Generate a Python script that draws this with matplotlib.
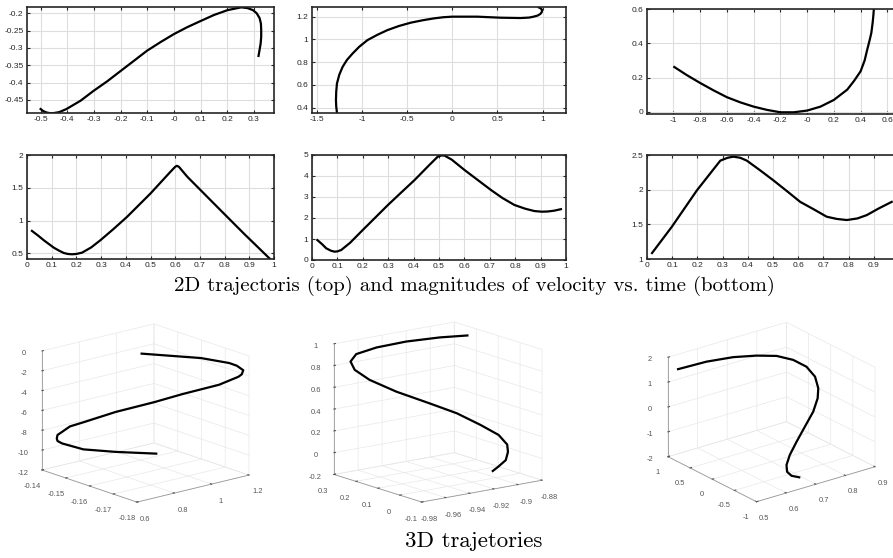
import itertools
import numpy as np
import matplotlib
matplotlib.use("Agg")
import matplotlib.pyplot as plt
from matplotlib.ticker import FormatStrFormatter
from mpl_toolkits.mplot3d import proj3d

plt.rcParams['font.family'] = ['Liberation Sans', 'DejaVu Sans']
plt.rcParams['axes.unicode_minus'] = False

# ---- 2D trajectories (top row) ----
traj1_x = [-0.50, -0.49, -0.478, -0.465, -0.453, -0.43, -0.403, -0.35, -0.302, -0.25, -0.201, -0.15,
           -0.101, -0.05, 0.0, 0.05, 0.101, 0.15, 0.201, 0.252, 0.275, 0.296, 0.31, 0.321, 0.326,
           0.327, 0.327, 0.325, 0.321, 0.317]
traj1_y = [-0.476, -0.482, -0.486, -0.488, -0.488, -0.485, -0.476, -0.452, -0.424, -0.396, -0.367, -0.337,
           -0.308, -0.283, -0.26, -0.24, -0.222, -0.205, -0.191, -0.183, -0.185, -0.191, -0.2, -0.214, -0.23,
           -0.248, -0.268, -0.287, -0.305, -0.323]

traj2_x = [-1.276, -1.284, -1.287, -1.284, -1.276, -1.25, -1.213, -1.165, -1.103, -1.03, -0.938, -0.83,
           -0.717, -0.59, -0.46, -0.33, -0.202, -0.1, 0.0, 0.276, 0.533, 0.754, 0.85, 0.9, 0.945,
           0.974, 0.99, 0.993, 0.975, 0.956]
traj2_y = [0.356, 0.41, 0.468, 0.54, 0.612, 0.69, 0.759, 0.82, 0.876, 0.935, 0.994, 1.04,
           1.082, 1.118, 1.147, 1.168, 1.185, 1.195, 1.2, 1.2, 1.191, 1.188, 1.192, 1.2, 1.21,
           1.224, 1.24, 1.26, 1.275, 1.282]

traj3_x = [-0.993, -0.9, -0.8, -0.7, -0.6, -0.5, -0.4, -0.3, -0.2, -0.1, 0.0, 0.1, 0.2, 0.3, 0.35,
           0.4, 0.43, 0.45, 0.468, 0.48, 0.49, 0.495, 0.499]
traj3_y = [0.262, 0.215, 0.169, 0.126, 0.086, 0.056, 0.031, 0.012, -0.002, -0.002, 0.008, 0.031, 0.07, 0.13, 0.18,
           0.237, 0.3, 0.365, 0.42, 0.46, 0.52, 0.56, 0.6]

# ---- speed magnitudes vs time (bottom row) ----
speed1_t = [0.02, 0.045, 0.068, 0.108, 0.13, 0.149, 0.165, 0.182, 0.2, 0.223, 0.26, 0.297, 0.35, 0.405,
            0.5, 0.581, 0.6, 0.607, 0.615, 0.649, 0.77, 0.878, 0.985]
speed1_v = [0.842, 0.77, 0.699, 0.587, 0.54, 0.505, 0.49, 0.485, 0.49, 0.51, 0.59, 0.699, 0.87, 1.056,
            1.413, 1.745, 1.82, 1.835, 1.82, 1.668, 1.209, 0.801, 0.41]

speed2_t = [0.021, 0.04, 0.056, 0.075, 0.089, 0.1, 0.115, 0.15, 0.2, 0.25, 0.299, 0.35, 0.404, 0.46, 0.495,
            0.51, 0.522, 0.55, 0.6, 0.705, 0.75, 0.797, 0.84, 0.876, 0.905, 0.928, 0.954, 0.98]
speed2_v = [0.95, 0.75, 0.556, 0.44, 0.397, 0.41, 0.476, 0.82, 1.43, 2.03, 2.62, 3.2, 3.81, 4.5, 4.92,
            4.98, 4.97, 4.78, 4.29, 3.33, 2.95, 2.62, 2.44, 2.33, 2.3, 2.31, 2.35, 2.42]

speed3_t = [0.02, 0.099, 0.198, 0.25, 0.291, 0.32, 0.343, 0.37, 0.396, 0.45, 0.502, 0.555, 0.608, 0.66,
            0.713, 0.753, 0.793, 0.835, 0.872, 0.92, 0.971]
speed3_v = [1.086, 1.467, 1.99, 2.23, 2.419, 2.46, 2.476, 2.46, 2.419, 2.276, 2.133, 1.98, 1.824, 1.72,
            1.61, 1.578, 1.562, 1.585, 1.633, 1.73, 1.824]

# ---- 3D trajectories ----
path1_x = [0.892, 1.058, 1.145, 1.165, 1.182, 1.179, 1.169, 1.116, 1.010, 0.923, 0.817, 0.72, 0.681,
           0.657, 0.645, 0.641, 0.645, 0.657, 0.72, 0.817, 0.932]
path1_y = [-0.159, -0.171, -0.176, -0.1776, -0.179, -0.1786, -0.178, -0.174, -0.167, -0.162, -0.154, -0.148,
           -0.1454, -0.144, -0.143, -0.143, -0.143, -0.144, -0.148, -0.154, -0.162]
path1_z = [-0.06, -0.29, -0.78, -1.01, -1.43, -1.86, -2.11, -3.0, -4.02, -4.84, -6.0, -7.09, -7.54,
           -8.09, -8.43, -8.77, -9.04, -9.26, -9.82, -10.03, -10.08]

path2_x = [-0.891, -0.911, -0.936, -0.957, -0.971, -0.975, -0.973, -0.965, -0.95, -0.932, -0.918, -0.907,
           -0.9, -0.898, -0.901, -0.905, -0.913, -0.918]
path2_y = [0.18, 0.196, 0.212, 0.232, 0.248, 0.252, 0.244, 0.22, 0.18, 0.128, 0.08, 0.032,
           -0.012, -0.04, -0.06, -0.072, -0.08, -0.084]
path2_z = [0.974, 0.986, 0.988, 0.963, 0.92, 0.857, 0.782, 0.689, 0.576, 0.466, 0.377, 0.278,
           0.2, 0.126, 0.077, 0.017, -0.025, -0.049]

path3_x = [0.519, 0.6, 0.675, 0.739, 0.789, 0.827, 0.848, 0.853, 0.843, 0.826, 0.796, 0.753,
           0.71, 0.672, 0.646, 0.633, 0.639, 0.659]
path3_y = [0.9, 0.8, 0.7, 0.6, 0.48, 0.36, 0.2, 0.04, -0.1, -0.2, -0.3, -0.4,
           -0.5, -0.6, -0.7, -0.8, -0.86, -0.9]
path3_z = [1.544, 1.652, 1.66, 1.588, 1.508, 1.324, 1.12, 0.848, 0.544, 0.292, -0.052, -0.412,
           -0.776, -1.088, -1.308, -1.444, -1.572, -1.668]

W, H = 893, 558
fig = plt.figure(figsize=(W / 100, H / 100), dpi=100)


def px_rect(l, r, t, b):
    return [l / W, 1 - b / H, (r - l) / W, (b - t) / H]


def panel2d(box, xs, ys, xlim, ylim, xticks, yticks):
    ax = fig.add_axes(px_rect(*box))
    ax.plot(xs, ys, color='k', lw=1.6, solid_joinstyle='round')
    ax.set_xlim(xlim)
    ax.set_ylim(ylim)
    ax.set_xticks(xticks)
    ax.set_yticks(yticks)
    ax.xaxis.set_major_formatter(FormatStrFormatter('%g'))
    ax.yaxis.set_major_formatter(FormatStrFormatter('%g'))
    ax.grid(True, color='#dedede', lw=0.8)
    ax.set_axisbelow(True)
    for s in ax.spines.values():
        s.set_color('#262626')
        s.set_linewidth(1.2)
    ax.tick_params(direction='in', length=2.5, width=0.8, top=True, right=True,
                   labelsize=6, colors='#262626', pad=2.5)
    return ax


panel2d((27, 274, 7, 113), traj1_x, traj1_y, (-0.551, 0.375), (-0.4875, -0.182),
        np.arange(-0.5, 0.31, 0.1).round(2), [-0.45, -0.4, -0.35, -0.3, -0.25, -0.2])
panel2d((312, 566, 7, 113), traj2_x, traj2_y, (-1.552, 1.258), (0.353, 1.285),
        [-1.5, -1, -0.5, 0, 0.5, 1], [0.4, 0.6, 0.8, 1, 1.2])
panel2d((647, 899, 9, 114), traj3_x, traj3_y, (-1.197, 0.687), (-0.012, 0.6),
        np.arange(-1, 0.61, 0.2).round(2), [0, 0.2, 0.4, 0.6])

tt = np.arange(0, 1.01, 0.1).round(2)
panel2d((27, 274, 155, 259), speed1_t, speed1_v, (0, 1), (0.413, 2), tt, [0.5, 1, 1.5, 2])
panel2d((312, 566, 155, 260), speed2_t, speed2_v, (0, 1), (0, 5), tt, [0, 1, 2, 3, 4, 5])
panel2d((647, 899, 155, 259), speed3_t, speed3_v, (0, 1), (1, 2.5), tt[:-1], [1, 1.5, 2, 2.5])

fig.text(474 / W, 1 - 291 / H, '2D trajectoris (top) and magnitudes of velocity vs. time (bottom)',
         ha='center', va='baseline', fontfamily='cmr10', fontsize=15, color='k')
fig.text(474 / W, 1 - 547 / H, '3D trajetories',
         ha='center', va='baseline', fontfamily='cmr10', fontsize=16.5, color='k')


def box_px(ax):
    x0, x1 = ax.get_xlim3d()
    y0, y1 = ax.get_ylim3d()
    z0, z1 = ax.get_zlim3d()
    c = np.array(list(itertools.product([x0, x1], [y0, y1], [z0, z1])))
    px, py, _ = proj3d.proj_transform(c[:, 0], c[:, 1], c[:, 2], ax.M)
    return ax.transData.transform(np.column_stack([px, py]))


def panel3d(target, xs, ys, zs, lims, ticks, elev, azim, aspect):
    l, r, t, b = target
    cx, cy = (l + r) / 2, (t + b) / 2
    side = 240
    ax = fig.add_axes(px_rect(cx - side / 2, cx + side / 2, cy - side / 2, cy + side / 2),
                      projection='3d', proj_type='ortho')
    ax.set_facecolor('none')
    ax.plot(xs, ys, zs, color='k', lw=1.6, solid_joinstyle='round')
    ax.set_xlim(lims[0])
    ax.set_ylim(lims[1])
    ax.set_zlim(lims[2])
    ax.set_xticks(ticks[0])
    ax.set_yticks(ticks[1])
    ax.set_zticks(ticks[2])
    ax.view_init(elev, azim)
    for axis in (ax.xaxis, ax.yaxis, ax.zaxis):
        axis.set_pane_color((1, 1, 1, 0))
        axis.pane.set_edgecolor('#dcdcdc')
        axis.pane.set_linewidth(0.6)
        axis._axinfo['grid'].update(color='#e8e8e8', linewidth=0.5)
        axis._axinfo['tick'].update(inward_factor=0.0, outward_factor=0.15)
        axis._axinfo['axisline'].update(color='#999999', linewidth=0.6)
        axis.line.set_color('#999999')
        axis.line.set_linewidth(0.6)
        axis.set_major_formatter(FormatStrFormatter('%g'))
    ax.tick_params(labelsize=5.4, colors='#555555', pad=0, width=0.5)
    zoom = 1.0
    ax.set_box_aspect(aspect, zoom=zoom)
    for _ in range(4):
        fig.canvas.draw()
        d = box_px(ax)
        pl, pr = d[:, 0].min(), d[:, 0].max()
        pt, pb = H - d[:, 1].max(), H - d[:, 1].min()
        zoom *= (r - l) / (pr - pl)
        ax.set_box_aspect(aspect, zoom=zoom)
        dx = cx - (pl + pr) / 2
        dy = cy - (pt + pb) / 2
        pos = ax.get_position(original=True)
        ax.set_position([pos.x0 + dx / W, pos.y0 - dy / H, pos.width, pos.height])
    return ax


panel3d((42, 249, 324, 502), path1_x, path1_y, path1_z,
        [(0.6, 1.2), (-0.18, -0.14), (-12, 0)],
        [[0.6, 0.8, 1, 1.2], [-0.18, -0.17, -0.16, -0.15, -0.14], [-12, -10, -8, -6, -4, -2, 0]],
        16.6, -130.2, (146.6, 147.2, 124.2))
panel3d((334, 542, 322, 502), path2_x, path2_y, path2_z,
        [(-0.98, -0.88), (-0.1, 0.3), (-0.2, 1)],
        [[-0.98, -0.96, -0.94, -0.92, -0.9, -0.88], [-0.1, 0, 0.1, 0.2, 0.3],
         [-0.2, 0, 0.2, 0.4, 0.6, 0.8, 1]],
        13.8, -127.2, (150.6, 144.6, 134.2))
panel3d((668, 875, 322, 502), path3_x, path3_y, path3_z,
        [(0.5, 0.9), (-1, 1), (-2, 2)],
        [[0.5, 0.6, 0.7, 0.8, 0.9], [-1, -0.5, 0, 0.5, 1], [-2, -1, 0, 1, 2]],
        22.8, -127.3, (148.7, 145.9, 107.7))

fig.savefig('out.png', dpi=100)
